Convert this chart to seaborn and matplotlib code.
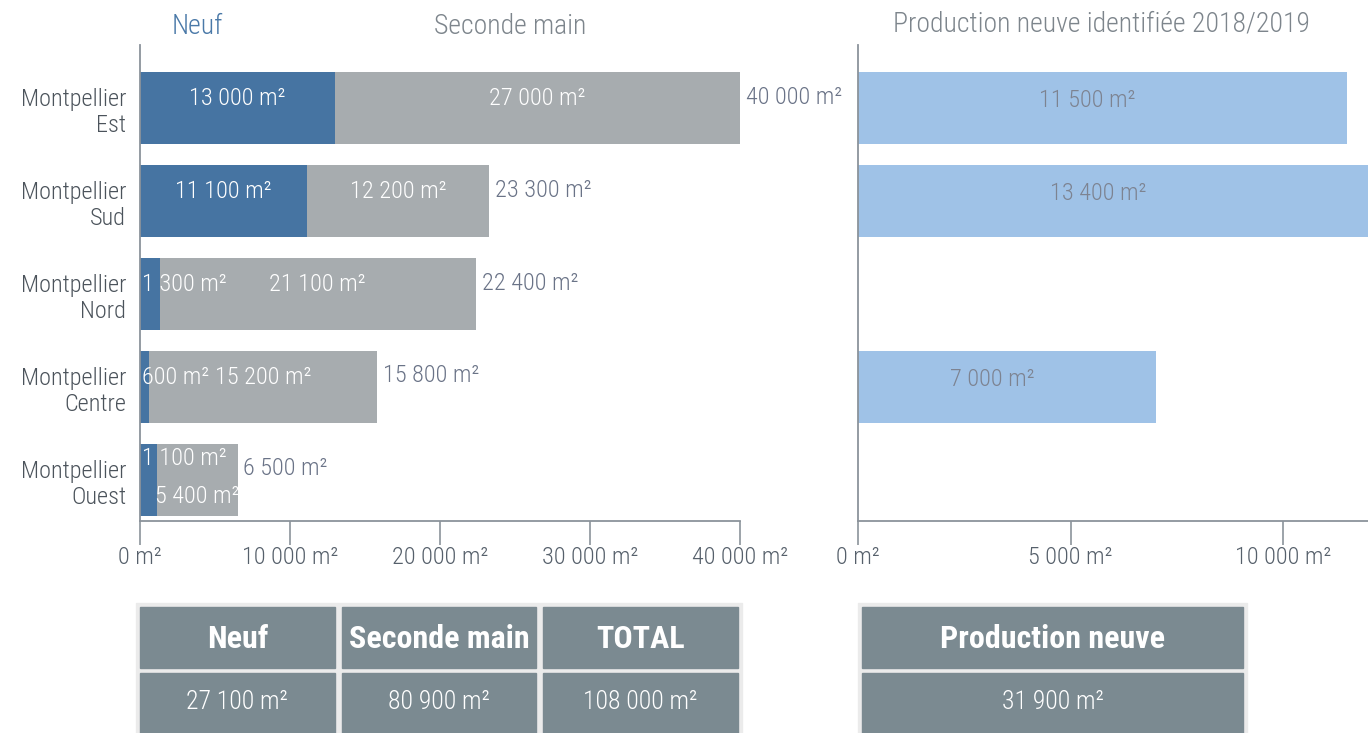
import matplotlib
matplotlib.use("Agg")
import matplotlib.pyplot as plt
from matplotlib import font_manager
from matplotlib.patches import Rectangle
import pandas as pd
import seaborn as sns

# Surfaces de bureaux par secteur (m²)
secteurs = ["Montpellier\nEst", "Montpellier\nSud", "Montpellier\nNord",
            "Montpellier\nCentre", "Montpellier\nOuest"]
neuf = [13000, 11100, 1300, 600, 1100]
seconde_main = [27000, 12200, 21100, 15200, 5400]
production_neuve = [11500, 13400, 0, 7000, 0]
ticks_gauche = [0, 10000, 20000, 30000, 40000]
ticks_droite = [0, 5000, 10000]
entetes_gauche = ["Neuf", "Seconde main", "TOTAL"]
entetes_droite = ["Production neuve"]

BLEU = "#4674A2"
GRIS = "#A7ACAF"
BLEU_CLAIR = "#9FC2E7"
SPINE = "#8B939B"
TICK_C = "#56606B"
CAT_C = "#4B535B"
TOTAL_C = "#6A7387"
TITRE_C = "#7D858C"
CELLULE = "#7B8A91"

sns.set_theme(style="white")
installed = {f.name for f in font_manager.fontManager.ttflist}
base = next((n for n in ["Roboto Condensed", "Liberation Sans Narrow", "DejaVu Sans"]
             if n in installed), "DejaVu Sans")
plt.rcParams["font.family"] = [base, "DejaVu Sans"]
plt.rcParams["font.weight"] = "light"
if base == "DejaVu Sans":
    plt.rcParams["font.stretch"] = "condensed"


def fmt(v):
    return f"{v:,.0f}".replace(",", " ") + " m²"


df = pd.DataFrame({"secteur": secteurs, "neuf": neuf, "seconde": seconde_main,
                   "prod": production_neuve})
df["total"] = df["neuf"] + df["seconde"]

W, H = 1368, 733
fig = plt.figure(figsize=(W / 100, H / 100), dpi=100)


def box(x0, y0, x1, y1):
    """Pixel box (origin top-left) to figure fraction."""
    return [x0 / W, 1 - y1 / H, (x1 - x0) / W, (y1 - y0) / H]


ax = fig.add_axes(box(140, 45, 740, 521))
ax2 = fig.add_axes(box(858, 45, 1368, 521))

sns.barplot(data=df, x="total", y="secteur", orient="h", color=GRIS, width=0.78,
            saturation=1, errorbar=None, linewidth=0, ax=ax)
sns.barplot(data=df, x="neuf", y="secteur", orient="h", color=BLEU, width=0.78,
            saturation=1, errorbar=None, linewidth=0, ax=ax)
sns.barplot(data=df, x="prod", y="secteur", orient="h", color=BLEU_CLAIR, width=0.78,
            saturation=1, errorbar=None, linewidth=0, ax=ax2)

ax.set_xlim(0, 40000)
ax.set_xticks(ticks_gauche)
ax.set_xticklabels([fmt(t) for t in ticks_gauche])
ax2.set_xlim(0, 12000)
ax2.set_xticks(ticks_droite)
ax2.set_xticklabels([fmt(t) for t in ticks_droite])

for a in (ax, ax2):
    a.set_ylim(4.44, -0.68)
    a.set_xlabel("")
    a.set_ylabel("")
    for s in ("top", "right"):
        a.spines[s].set_visible(False)
    for s in ("left", "bottom"):
        a.spines[s].set_color(SPINE)
        a.spines[s].set_linewidth(1.3)
    a.tick_params(axis="x", bottom=True, length=17, width=1.2, color=SPINE, pad=1,
                  labelsize=17.5, labelcolor=TICK_C)
    a.tick_params(axis="y", left=False, length=0, pad=10, labelsize=17.5, labelcolor=CAT_C)
ax2.tick_params(axis="y", labelleft=False)

# Étiquettes de valeurs, graphique de gauche
for i, r in df.iterrows():
    if r["total"] >= 10000:
        y_n = y_s = i - 0.1
    else:
        y_n, y_s = i - 0.23, i + 0.18
    if r["neuf"] >= 5000:
        ax.text(r["neuf"] / 2, y_n, fmt(r["neuf"]), ha="center", va="center",
                color="white", fontsize=17.5)
    else:
        ax.annotate(fmt(r["neuf"]), (0, y_n), xytext=(1.5, 0), textcoords="offset points",
                    ha="left", va="center", color="white", fontsize=17.5)
    ax.text(r["neuf"] + r["seconde"] / 2, y_s, fmt(r["seconde"]), ha="center",
            va="center", color="white", fontsize=17.5)
    ax.annotate(fmt(r["total"]), (r["total"], i - 0.12), xytext=(4, 0),
                textcoords="offset points", ha="left", va="center",
                color=TOTAL_C, fontsize=17.5)

# Étiquettes de valeurs, graphique de droite
xmax = ax2.get_xlim()[1]
for i, r in df.iterrows():
    if r["prod"] > 0:
        ax2.text(min(r["prod"], xmax) / 2 - 350, i - 0.08, fmt(r["prod"]), ha="center",
                 va="center", color="#7D8391", fontsize=17.5)

# Titres des colonnes
fig.text(197 / W, 1 - 27 / H, "Neuf", ha="center", va="center", fontsize=20, color="#4A79A8")
fig.text(510 / W, 1 - 27 / H, "Seconde main", ha="center", va="center", fontsize=20,
         color=TITRE_C)
fig.text(1101 / W, 1 - 24 / H, "Production neuve identifiée 2018/2019", ha="center",
         va="center", fontsize=20, color=TITRE_C)


def tableau(x0, x1, entetes, valeurs):
    tax = fig.add_axes(box(x0, 603, x1, 733))
    tax.set_xlim(x0, x1)
    tax.set_ylim(733, 603)
    tax.axis("off")
    tax.add_patch(Rectangle((x0, 603), x1 - x0, 140, color="#EBEBEB", clip_on=False))
    n = len(entetes)
    gap = 7
    cw = (x1 - x0 - 8 - gap * (n - 1)) / n
    for k, (e, v) in enumerate(zip(entetes, valeurs)):
        cx = x0 + 4 + k * (cw + gap)
        tax.add_patch(Rectangle((cx, 607), cw, 61, color=CELLULE))
        tax.add_patch(Rectangle((cx, 673), cw, 70, color=CELLULE, clip_on=False))
        tax.text(cx + cw / 2, 639, e, ha="center", va="center", color="white",
                 fontsize=23, fontweight="bold")
        tax.text(cx + cw / 2, 702, fmt(v), ha="center", va="center", color="white",
                 fontsize=18.5)


tableau(136, 742, entetes_gauche,
        [df["neuf"].sum(), df["seconde"].sum(), df["total"].sum()])
tableau(858, 1247, entetes_droite, [df["prod"].sum()])

fig.savefig("out.png", dpi=100)
